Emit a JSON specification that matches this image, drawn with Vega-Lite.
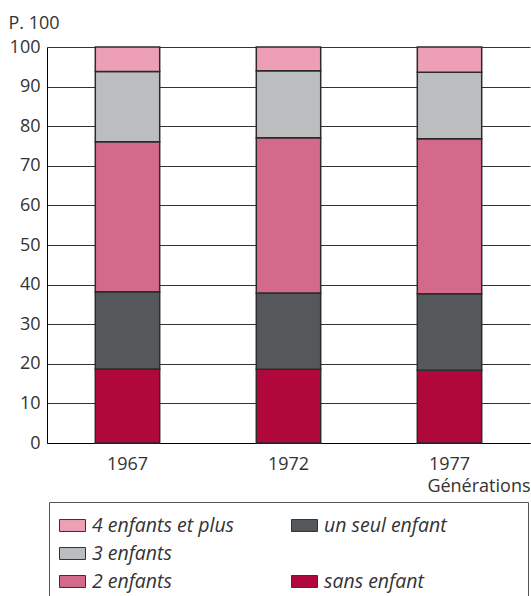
{
  "$schema": "https://vega.github.io/schema/vega-lite/v6.json",
  "width": 483,
  "height": 396,
  "autosize": "none",
  "padding": {"left": 47, "top": 47, "right": 1, "bottom": 153},
  "config": {
    "font": "Open Sans",
    "view": {"stroke": null},
    "axis": {"labelColor": "#333", "titleColor": "#333", "labelFontSize": 18, "titleFontSize": 18, "titleFontWeight": "normal", "ticks": false, "domainColor": "#000", "domainWidth": 1}
  },
  "data": {
    "values": [
      {"generation": "1967", "categorie": "sans enfant", "rang": 1, "pct": 18.7},
      {"generation": "1967", "categorie": "un seul enfant", "rang": 2, "pct": 19.5},
      {"generation": "1967", "categorie": "2 enfants", "rang": 3, "pct": 37.9},
      {"generation": "1967", "categorie": "3 enfants", "rang": 4, "pct": 17.7},
      {"generation": "1967", "categorie": "4 enfants et plus", "rang": 5, "pct": 6.2},
      {"generation": "1972", "categorie": "sans enfant", "rang": 1, "pct": 18.6},
      {"generation": "1972", "categorie": "un seul enfant", "rang": 2, "pct": 19.3},
      {"generation": "1972", "categorie": "2 enfants", "rang": 3, "pct": 39.2},
      {"generation": "1972", "categorie": "3 enfants", "rang": 4, "pct": 16.9},
      {"generation": "1972", "categorie": "4 enfants et plus", "rang": 5, "pct": 6.0},
      {"generation": "1977", "categorie": "sans enfant", "rang": 1, "pct": 18.4},
      {"generation": "1977", "categorie": "un seul enfant", "rang": 2, "pct": 19.3},
      {"generation": "1977", "categorie": "2 enfants", "rang": 3, "pct": 39.1},
      {"generation": "1977", "categorie": "3 enfants", "rang": 4, "pct": 16.8},
      {"generation": "1977", "categorie": "4 enfants et plus", "rang": 5, "pct": 6.4}
    ]
  },
  "mark": {"type": "bar", "stroke": "#2b2b2b", "strokeWidth": 1.5},
  "encoding": {
    "x": {
      "field": "generation",
      "type": "ordinal",
      "scale": {"paddingInner": 0.6, "paddingOuter": 0.3},
      "axis": {"labelAngle": 0, "labelPadding": 12, "title": "Générations", "titleAnchor": "end", "titleAlign": "right", "titleX": 483, "titleY": 48, "titleBaseline": "alphabetic"}
    },
    "y": {
      "field": "pct",
      "type": "quantitative",
      "stack": "zero",
      "scale": {"domain": [0, 100], "nice": false},
      "axis": {"values": [0, 10, 20, 30, 40, 50, 60, 70, 80, 90, 100], "grid": true, "gridColor": "#333", "gridWidth": 1, "labelPadding": 7, "title": "P. 100", "titleAngle": 0, "titleAlign": "left", "titleX": -39, "titleY": -19, "titleBaseline": "alphabetic"}
    },
    "color": {
      "field": "categorie",
      "type": "nominal",
      "scale": {
        "domain": ["4 enfants et plus", "3 enfants", "2 enfants", "un seul enfant", "blank", "sans enfant"],
        "range": ["#ec9fb5", "#bcbdbf", "#d46a8b", "#55585a", "rgba(0,0,0,0)", "#b1083c"]
      },
      "legend": {
        "orient": "none",
        "legendX": 2,
        "legendY": 455,
        "columns": 2,
        "title": null,
        "symbolType": "M-1,-0.46H1V0.46H-1Z",
        "symbolSize": 676,
        "symbolStrokeColor": "#333",
        "symbolStrokeWidth": 1,
        "labelFontSize": 19.5,
        "labelFontStyle": "italic",
        "labelColor": "#333",
        "labelOffset": 6,
        "labelLimit": 400,
        "columnPadding": 54,
        "rowPadding": 5,
        "padding": 10,
        "strokeColor": "#555",
        "labelExpr": "datum.label === 'blank' ? '000000000000000000' : datum.label",
        "encode": {
          "symbols": {"update": {"strokeOpacity": {"signal": "datum.value === 'blank' ? 0 : 1"}}},
          "labels": {"update": {"fillOpacity": {"signal": "datum.value === 'blank' ? 0 : 1"}}}
        }
      }
    },
    "order": {"field": "rang", "type": "quantitative"}
  }
}
